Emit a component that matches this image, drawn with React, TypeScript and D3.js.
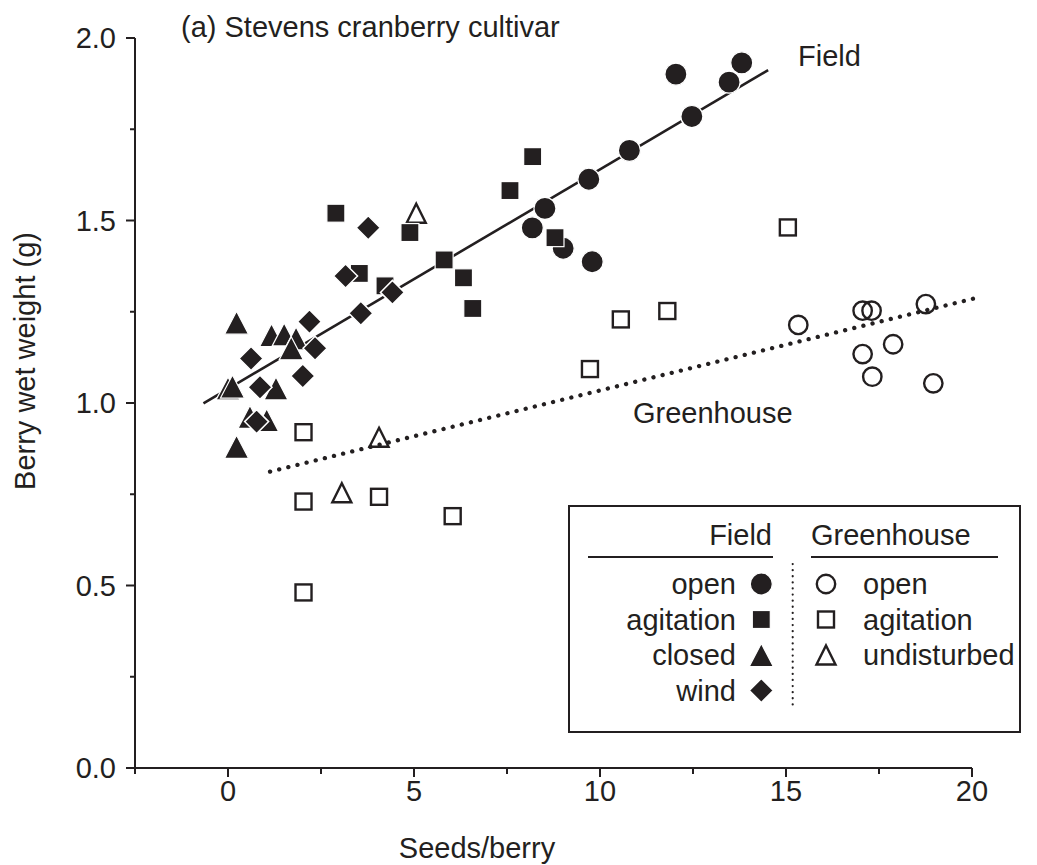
import React from "react";
import * as d3 from "d3";

// ---- Data (seeds/berry, berry wet weight g) ----
const fieldOpen: [number, number][] = [
  [12.04, 1.901], [13.81, 1.932], [13.47, 1.879], [12.47, 1.785], [10.79, 1.692],
  [9.70, 1.613], [8.52, 1.533], [8.18, 1.480], [9.01, 1.424], [9.79, 1.387],
];
const fieldAgitation: [number, number][] = [
  [2.90, 1.520], [8.19, 1.675], [7.58, 1.582], [5.81, 1.392], [6.33, 1.343],
  [6.58, 1.259], [8.79, 1.453], [4.89, 1.467], [3.53, 1.355], [4.22, 1.321],
];
const fieldClosed: [number, number][] = [
  [0.23, 1.220], [1.17, 1.186], [1.51, 1.188], [1.83, 1.177], [1.70, 1.150],
  [0.0, 1.040], [0.12, 1.045], [1.29, 1.040], [0.59, 0.962], [1.04, 0.953], [0.23, 0.880],
];
const fieldWind: [number, number][] = [
  [2.19, 1.223], [0.62, 1.122], [2.34, 1.150], [2.01, 1.074], [0.86, 1.043],
  [0.77, 0.949], [3.77, 1.480], [3.16, 1.348], [4.42, 1.303], [3.57, 1.246],
];
const ghOpen: [number, number][] = [
  [15.33, 1.214], [17.06, 1.253], [17.30, 1.253], [18.76, 1.271], [17.88, 1.161],
  [17.06, 1.134], [17.32, 1.072], [18.96, 1.054],
];
const ghAgitation: [number, number][] = [
  [15.05, 1.481], [10.56, 1.229], [11.81, 1.252], [9.73, 1.093], [2.03, 0.920],
  [2.03, 0.730], [4.06, 0.743], [6.04, 0.690], [2.03, 0.481],
];
const ghUndisturbed: [number, number][] = [
  [5.06, 1.520], [4.06, 0.906], [3.06, 0.754],
];
const fieldFit: [number, number][] = [[-0.66, 0.999], [14.52, 1.912]];
const ghFit: [number, number][] = [[1.13, 0.812], [20.08, 1.287]];

const xMajor = [0, 5, 10, 15, 20];
const xMinor = [-2.5, 2.5, 7.5, 12.5, 17.5];
const yMajor = [0, 0.5, 1, 1.5, 2];
const yMinor = [0.25, 0.75, 1.25, 1.75];

const fieldLegend = ["open", "agitation", "closed", "wind"];
const ghLegend = ["open", "agitation", "undisturbed"];

const INK = "#231f20";
const FONT = "'Liberation Sans', Arial, Helvetica, sans-serif";
const FS = 29;

const triPath = (w: number, h: number) =>
  `M0,${-h / 2}L${w / 2},${h / 2}L${-w / 2},${h / 2}Z`;
const diaPath = (r: number) => `M0,${-r}L${r},0L0,${r}L${-r},0Z`;

type Kind = "fc" | "fs" | "ft" | "fd" | "oc" | "os" | "ot";

function Marker({ kind, x, y }: { kind: Kind; x: number; y: number }) {
  const t = `translate(${x},${y})`;
  switch (kind) {
    case "fc":
      return <circle cx={x} cy={y} r={11} fill={INK} stroke="#fff" strokeWidth={1.2} />;
    case "fs":
      return <rect x={x - 9} y={y - 9} width={18} height={18} fill={INK} stroke="#fff" strokeWidth={1.2} />;
    case "ft":
      return <path transform={t} d={triPath(24, 23)} fill={INK} stroke="#fff" strokeWidth={1.2} />;
    case "fd":
      return <path transform={t} d={diaPath(12)} fill={INK} stroke="#fff" strokeWidth={1.5} />;
    case "oc":
      return <circle cx={x} cy={y} r={9.2} fill="none" stroke={INK} strokeWidth={2.4} />;
    case "os":
      return <rect x={x - 8} y={y - 8} width={16} height={16} fill="none" stroke={INK} strokeWidth={2.4} />;
    case "ot":
      return <path transform={t} d={triPath(19, 19)} fill="none" stroke={INK} strokeWidth={2.4} strokeLinejoin="miter" />;
  }
  return null;
}

export default function App() {
  const W = 1037, H = 865;
  const x = d3.scaleLinear().domain([-2.5, 20]).range([135, 972]);
  const y = d3.scaleLinear().domain([0, 2]).range([768, 38]);
  const line = d3.line<[number, number]>().x((d) => x(d[0])).y((d) => y(d[1]));

  const series: { data: [number, number][]; kind: Kind }[] = [
    { data: ghOpen, kind: "oc" },
    { data: ghAgitation, kind: "os" },
    { data: ghUndisturbed, kind: "ot" },
    { data: fieldOpen, kind: "fc" },
    { data: fieldAgitation, kind: "fs" },
    { data: fieldClosed, kind: "ft" },
    { data: fieldWind, kind: "fd" },
  ];
  const fieldKinds: Kind[] = ["fc", "fs", "ft", "fd"];
  const ghKinds: Kind[] = ["oc", "os", "ot"];
  const rowY = (i: number) => 584 + i * 35.5;

  return (
    <svg width={W} height={H} style={{ position: "absolute", left: 0, top: 0, background: "#fff" }}
      fontFamily={FONT} fill={INK}>
      <rect width={W} height={H} fill="#fff" />
      {/* axes */}
      <line x1={x(-2.5)} x2={x(20)} y1={y(0)} y2={y(0)} stroke={INK} strokeWidth={2} />
      <line x1={x(-2.5)} x2={x(-2.5)} y1={y(0)} y2={y(2)} stroke={INK} strokeWidth={2} />
      {xMajor.map((v) => (
        <g key={"xm" + v}>
          <line x1={x(v)} x2={x(v)} y1={y(0)} y2={y(0) + 9} stroke={INK} strokeWidth={2} />
          <text x={x(v)} y={y(0) + 33} textAnchor="middle" fontSize={FS}>{v}</text>
        </g>
      ))}
      {xMinor.map((v) => (
        <line key={"xn" + v} x1={x(v)} x2={x(v)} y1={y(0)} y2={y(0) + 6} stroke={INK} strokeWidth={2} />
      ))}
      {yMajor.map((v) => (
        <g key={"ym" + v}>
          <line x1={x(-2.5)} x2={x(-2.5) - 9} y1={y(v)} y2={y(v)} stroke={INK} strokeWidth={2} />
          <text x={x(-2.5) - 19} y={y(v) + 10} textAnchor="end" fontSize={FS}>{v.toFixed(1)}</text>
        </g>
      ))}
      {yMinor.map((v) => (
        <line key={"yn" + v} x1={x(-2.5)} x2={x(-2.5) - 5} y1={y(v)} y2={y(v)} stroke={INK} strokeWidth={2} />
      ))}
      <text x={477} y={858} textAnchor="middle" fontSize={FS}>Seeds/berry</text>
      <text transform={`translate(35,361) rotate(-90)`} textAnchor="middle" fontSize={FS}>Berry wet weight (g)</text>
      <text x={181} y={37} fontSize={FS}>(a) Stevens cranberry cultivar</text>

      {/* fits */}
      <path d={line(fieldFit) || ""} fill="none" stroke={INK} strokeWidth={2.6} />
      <path d={line(ghFit) || ""} fill="none" stroke={INK} strokeWidth={4.3} strokeDasharray="0.1 9.3" strokeLinecap="round" />
      <text x={798} y={66} fontSize={FS}>Field</text>
      <text x={633} y={423} fontSize={FS}>Greenhouse</text>

      {/* points */}
      {series.map((s, si) =>
        s.data.map((d, i) => <Marker key={si + "-" + i} kind={s.kind} x={x(d[0])} y={y(d[1])} />)
      )}

      {/* legend */}
      <rect x={569} y={506} width={451} height={226} fill="none" stroke={INK} strokeWidth={2} />
      <text x={772} y={545} textAnchor="end" fontSize={FS}>Field</text>
      <text x={811} y={545} fontSize={FS}>Greenhouse</text>
      <line x1={588} x2={773} y1={557} y2={557} stroke={INK} strokeWidth={2.2} />
      <line x1={811} x2={998} y1={557} y2={557} stroke={INK} strokeWidth={2.2} />
      <line x1={792.7} x2={792.7} y1={564} y2={708} stroke={INK} strokeWidth={2.2} strokeDasharray="0.1 6" strokeLinecap="round" />
      {fieldLegend.map((lab, i) => (
        <g key={"fl" + i}>
          <text x={736} y={rowY(i) + 10} textAnchor="end" fontSize={FS}>{lab}</text>
          <Marker kind={fieldKinds[i]} x={761.3} y={rowY(i)} />
        </g>
      ))}
      {ghLegend.map((lab, i) => (
        <g key={"gl" + i}>
          <Marker kind={ghKinds[i]} x={826} y={rowY(i)} />
          <text x={863} y={rowY(i) + 10} fontSize={FS}>{lab}</text>
        </g>
      ))}
    </svg>
  );
}
